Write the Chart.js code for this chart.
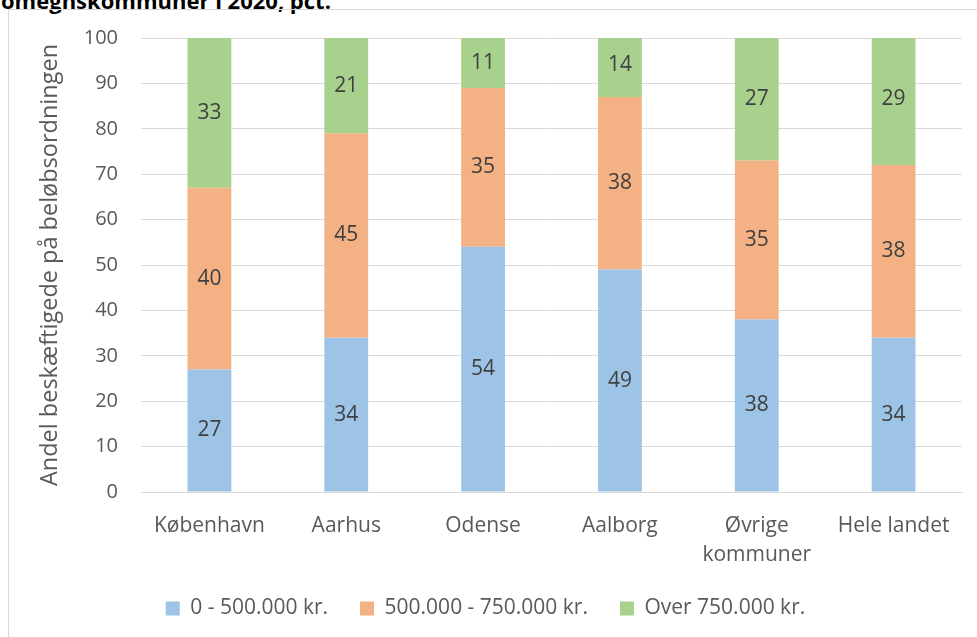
<!DOCTYPE html>
<html>
<head>
<meta charset="utf-8">
<script src="https://cdn.jsdelivr.net/npm/chart.js@4"></script>
<style>
  body { margin: 0; background: #fff; overflow: hidden; width: 977px; height: 637px; position: relative; }
  .title { position: absolute; left: 1px; top: -15px; font: bold 22px "Open Sans", sans-serif; color: #000; white-space: nowrap; }
  .frame { position: absolute; left: 8px; top: 9px; width: 1000px; height: 700px; border: 1px solid #d9d9d9; box-sizing: border-box; }
  .wrap { position: absolute; left: 9px; top: 3px; width: 968px; height: 626px; }
</style>
</head>
<body>
<div class="title">omegnskommuner i 2020, pct.</div>
<div class="frame"></div>
<div class="wrap"><canvas id="chart"></canvas></div>
<script>
const categories = ['København', 'Aarhus', 'Odense', 'Aalborg', ['Øvrige', 'kommuner'], 'Hele landet'];
const under500 = [27, 34, 54, 49, 38, 34];
const mid500to750 = [40, 45, 35, 38, 35, 38];
const over750 = [33, 21, 11, 14, 27, 29];
const yTicks = [0, 10, 20, 30, 40, 50, 60, 70, 80, 90, 100];

const family = '"Open Sans", sans-serif';

// value labels in the middle of each bar segment
const barLabels = {
    id: 'barLabels',
    afterDatasetsDraw(chart) {
        const ctx = chart.ctx;
        ctx.save();
        ctx.font = '21px ' + family;
        ctx.fillStyle = '#404040';
        ctx.textAlign = 'center';
        ctx.textBaseline = 'middle';
        chart.data.datasets.forEach((ds, i) => {
            chart.getDatasetMeta(i).data.forEach((bar, j) => {
                const p = bar.getProps(['x', 'y', 'base'], true);
                ctx.fillText(ds.data[j], p.x, (p.y + p.base) / 2);
            });
        });
        ctx.restore();
    }
};

new Chart(document.getElementById('chart'), {
    type: 'bar',
    data: {
        labels: categories,
        datasets: [
            { label: '0 - 500.000 kr.', data: under500, backgroundColor: '#9DC3E6' },
            { label: '500.000 - 750.000 kr.', data: mid500to750, backgroundColor: '#F4B183' },
            { label: 'Over 750.000 kr.', data: over750, backgroundColor: '#A9D18E' },
        ],
    },
    options: {
        responsive: true,
        maintainAspectRatio: false,
        animation: false,
        layout: { padding: { top: 0, right: 15, bottom: 0, left: 0 } },
        datasets: { bar: { categoryPercentage: 1, barPercentage: 0.32 } },
        plugins: {
            legend: {
                position: 'bottom',
                labels: { boxWidth: 14, boxHeight: 14, padding: 32, color: '#595959', font: { family, size: 21 } },
            },
            tooltip: { enabled: false },
        },
        scales: {
            x: {
                stacked: true,
                grid: { display: false, drawTicks: false },
                border: { color: '#d9d9d9' },
                afterFit: axis => { axis.height = 74; },
                ticks: { color: '#595959', font: { family, size: 21, lineHeight: 1.4 }, padding: 19, maxRotation: 0 },
            },
            y: {
                stacked: true,
                min: 0,
                max: 100,
                afterBuildTicks: axis => { axis.ticks = yTicks.map(v => ({ value: v })); },
                afterFit: axis => { axis.width = 132; },
                grid: { color: '#d9d9d9', drawTicks: false },
                border: { display: false },
                ticks: { color: '#595959', font: { family, size: 20 }, padding: 23 },
                title: {
                    display: true,
                    text: 'Andel beskæftigede på beløbsordningen',
                    color: '#595959',
                    font: { family, size: 23.5 },
                    padding: { top: 27, bottom: 0 },
                },
            },
        },
    },
    plugins: [barLabels],
});
</script>
</body>
</html>
